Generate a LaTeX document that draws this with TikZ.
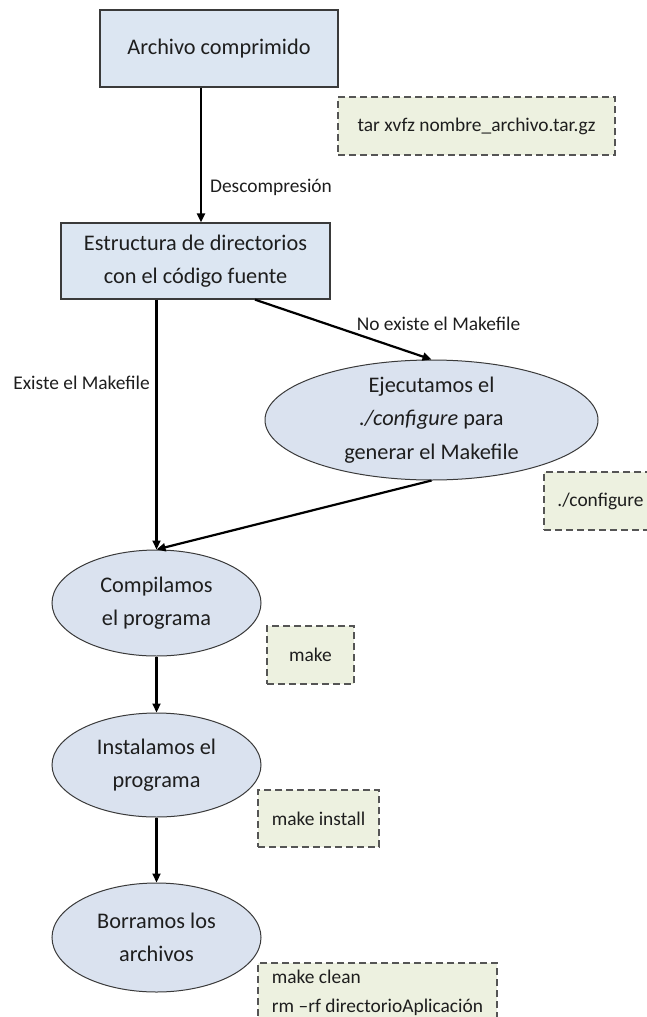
\documentclass[tikz,border=0pt]{standalone}
\usepackage{fontspec}
\setmainfont{Carlito}
\usetikzlibrary{arrows.meta,shapes.geometric}

\definecolor{boxblue}{HTML}{DCE6F2}
\definecolor{ellblue}{HTML}{DAE2EF}
\definecolor{cmdfill}{HTML}{EDF1E0}
\definecolor{dashgray}{HTML}{555555}
\definecolor{edgegray}{HTML}{3A3A3A}
\definecolor{textc}{HTML}{1E1E1E}

\tikzset{
  bigtext/.style={font=\fontsize{22.3}{33.5}\selectfont, text=textc, align=center},
  smalltext/.style={font=\fontsize{19.4}{29}\selectfont, text=textc},
  procbox/.style={rectangle, draw=edgegray, line width=1.3pt, fill=boxblue,
                  inner sep=0pt, bigtext},
  stepell/.style={ellipse, draw=edgegray, line width=1pt, fill=ellblue,
                  inner sep=0pt},
  ellname/.style={bigtext},
  cmdbox/.style={rectangle, draw=dashgray, dash pattern=on 7pt off 4pt,
                 line width=1.6pt, fill=cmdfill, inner sep=0pt, smalltext},
  lbl/.style={smalltext, inner sep=0pt},
  arr/.style={-{Triangle[length=9pt,width=8pt]}, line width=2.2pt, black}
}

\begin{document}
\begin{tikzpicture}[x=1pt, y=-1pt]
\useasboundingbox (0,0) rectangle (647,1017);

% main flow
\node[procbox, minimum width=238pt, minimum height=77pt] (arch) at (219,48.5)
  {Archivo comprimido};
\node[procbox, minimum width=269pt, minimum height=76pt] (estr) at (195.5,261)
  {Estructura de directorios\\con el código fuente};

\node[stepell, minimum width=333pt, minimum height=120pt,
      label={[ellname]center:{Ejecutamos el\\\textit{./configure} para\\generar el Makefile}}]
  (conf) at (431.5,420) {};
\node[stepell, minimum width=209pt, minimum height=106pt,
      label={[ellname]center:{Compilamos\\el programa}}]
  (comp) at (156.5,603) {};
\node[stepell, minimum width=209pt, minimum height=104pt,
      label={[ellname]center:{Instalamos el\\programa}}]
  (inst) at (156.5,765) {};
\node[stepell, minimum width=209pt, minimum height=109pt,
      label={[ellname]center:{Borramos los\\archivos}}]
  (borr) at (156.5,937.5) {};

% shell commands
\node[cmdbox, minimum width=277pt, minimum height=58pt] (ctar) at (476.5,126)
  {tar xvfz nombre\_archivo.tar.gz};
\node[cmdbox, minimum width=113pt, minimum height=58pt] (cconf) at (600.5,501)
  {./configure};
\node[cmdbox, minimum width=87pt, minimum height=58pt] (cmake) at (310.5,655)
  {make};
\node[cmdbox, minimum width=121pt, minimum height=57pt] (cinst) at (318.5,818.5)
  {make install};
\node[cmdbox, minimum width=239pt, minimum height=59pt, align=left] (cclean) at (377.5,992.5)
  {make clean\\rm –rf directorioAplicación};

% connectors
\draw[arr] ([xshift=-18pt]arch.south) -- ([xshift=5.5pt]estr.north);
\draw[arr] (comp.north |- estr.south) -- (comp.north);
\draw[arr] ([xshift=59.5pt]estr.south) -- (conf.north);
\draw[arr] (conf.south) -- (comp.north);
\draw[arr] (comp.south) -- (inst.north);
\draw[arr] (inst.south) -- (borr.north);

% edge labels
\node[lbl] (ldesc) at (271,187) {Descompresión};
\node[lbl] (lno) at (438.5,324) {No existe el Makefile};
\node[lbl, anchor=east] (lsi) at (150,383) {Existe el Makefile};
\end{tikzpicture}
\end{document}
